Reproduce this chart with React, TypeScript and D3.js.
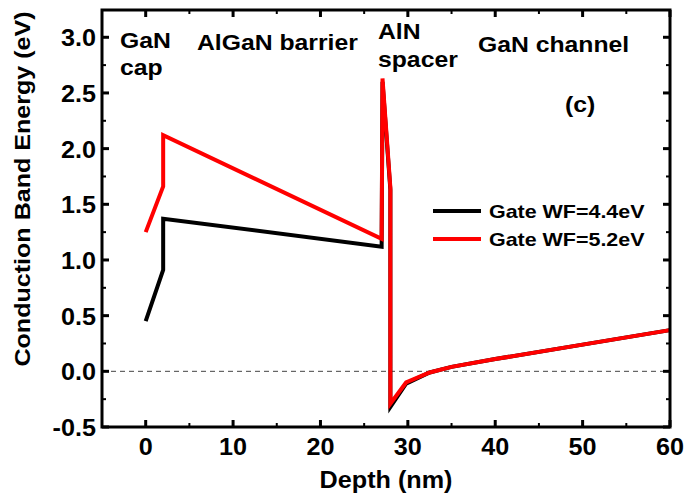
import React from "react";
import * as d3 from "d3";

const depth44 = [0, 2, 2, 27, 27.1, 28, 28, 29.8, 32.5, 35, 40, 50, 60];
const energy44 = [0.45, 0.91, 1.37, 1.12, 2.6, 1.63, -0.32, -0.11, -0.01, 0.04, 0.11, 0.24, 0.37];
const depth52 = [0, 2, 2, 27, 27.1, 28, 28, 29.8, 32.5, 35, 40, 50, 60];
const energy52 = [1.25, 1.66, 2.12, 1.19, 2.63, 1.65, -0.29, -0.1, -0.01, 0.04, 0.11, 0.24, 0.37];
const xTicks = [0, 10, 20, 30, 40, 50, 60];
const yTicks = [-0.5, 0.0, 0.5, 1.0, 1.5, 2.0, 2.5, 3.0];
const seriesNames = ["Gate WF=4.4eV", "Gate WF=5.2eV"];
const seriesColors = ["#000000", "#ff0000"];

const W = 686, H = 497;
const L = 102, R = 670, T = 10, B = 427;

function Txt({ x, y, size, sx = 1.1, anchor = "start", rot = 0, children }: any) {
  return (
    <text
      transform={`translate(${x},${y}) rotate(${rot}) scale(${sx},1)`}
      textAnchor={anchor}
      fontSize={size}
    >
      {children}
    </text>
  );
}

export default function App() {
  const x = d3.scaleLinear().domain([-5, 60]).range([L, R]);
  const y = d3.scaleLinear().domain([-0.5, 3.245]).range([B, T]);
  const line = d3.line<[number, number]>().x(d => x(d[0])).y(d => y(d[1]));
  const s1 = depth44.map((d, i) => [d, energy44[i]] as [number, number]);
  const s2 = depth52.map((d, i) => [d, energy52[i]] as [number, number]);
  const font = "Arial, 'Liberation Sans', sans-serif";
  const xMinor = d3.range(-5, 61, 5).filter(v => v % 10 !== 0);
  const yMinor = d3.range(-0.25, 3.25, 0.5);
  return (
    <svg width={W} height={H} style={{ position: "absolute", left: 0, top: 0, background: "#fff" }} fontFamily={font} fontWeight="bold">
      <line x1={L} x2={R} y1={y(0)} y2={y(0)} stroke="#444" strokeWidth={1} strokeDasharray="5,4" />
      {xTicks.map(t => (
        <g key={"xt" + t}>
          <line x1={x(t)} x2={x(t)} y1={B} y2={B - 7} stroke="#000" strokeWidth={3} />
          <line x1={x(t)} x2={x(t)} y1={T} y2={T + 7} stroke="#000" strokeWidth={3} />
          <Txt x={x(t)} y={B + 28} size={24} sx={1.05} anchor="middle">{t}</Txt>
        </g>
      ))}
      {xMinor.map(t => (
        <g key={"xm" + t}>
          <line x1={x(t)} x2={x(t)} y1={B} y2={B - 4} stroke="#000" strokeWidth={2} />
          <line x1={x(t)} x2={x(t)} y1={T} y2={T + 4} stroke="#000" strokeWidth={2} />
        </g>
      ))}
      {yTicks.map(t => (
        <g key={"yt" + t}>
          <line x1={L} x2={L + 7} y1={y(t)} y2={y(t)} stroke="#000" strokeWidth={3} />
          <line x1={R} x2={R - 7} y1={y(t)} y2={y(t)} stroke="#000" strokeWidth={3} />
          <Txt x={L - 6} y={y(t) + 9} size={24} sx={1.05} anchor="end">{t.toFixed(1)}</Txt>
        </g>
      ))}
      {yMinor.map(t => (
        <g key={"ym" + t}>
          <line x1={L} x2={L + 4} y1={y(t)} y2={y(t)} stroke="#000" strokeWidth={2} />
          <line x1={R} x2={R - 4} y1={y(t)} y2={y(t)} stroke="#000" strokeWidth={2} />
        </g>
      ))}
      <path d={line(s1) || ""} fill="none" stroke={seriesColors[0]} strokeWidth={4} strokeLinejoin="miter" />
      <path d={line(s2) || ""} fill="none" stroke={seriesColors[1]} strokeWidth={4} strokeLinejoin="miter" />
      <rect x={L} y={T} width={R - L} height={B - T} fill="none" stroke="#000" strokeWidth={3} />
      <Txt x={120} y={48} size={22.5}>GaN</Txt>
      <Txt x={120} y={75} size={22.5}>cap</Txt>
      <Txt x={197} y={50} size={22.5}>AlGaN barrier</Txt>
      <Txt x={378} y={39} size={22.5}>AlN</Txt>
      <Txt x={378} y={67} size={22.5}>spacer</Txt>
      <Txt x={478} y={52} size={22.5}>GaN channel</Txt>
      <Txt x={565} y={112} size={22.5}>(c)</Txt>
      {seriesNames.map((n, i) => (
        <g key={n}>
          <line x1={433} x2={481} y1={211 + i * 28} y2={211 + i * 28} stroke={seriesColors[i]} strokeWidth={4} />
          <Txt x={489} y={218 + i * 28} size={18.5} sx={1.16}>{n}</Txt>
        </g>
      ))}
      <Txt x={(L + R) / 2} y={488} size={24} sx={1.05} anchor="middle">Depth (nm)</Txt>
      <Txt x={30} y={189} size={22} sx={1.14} rot={-90} anchor="middle">Conduction Band Energy (eV)</Txt>
    </svg>
  );
}
